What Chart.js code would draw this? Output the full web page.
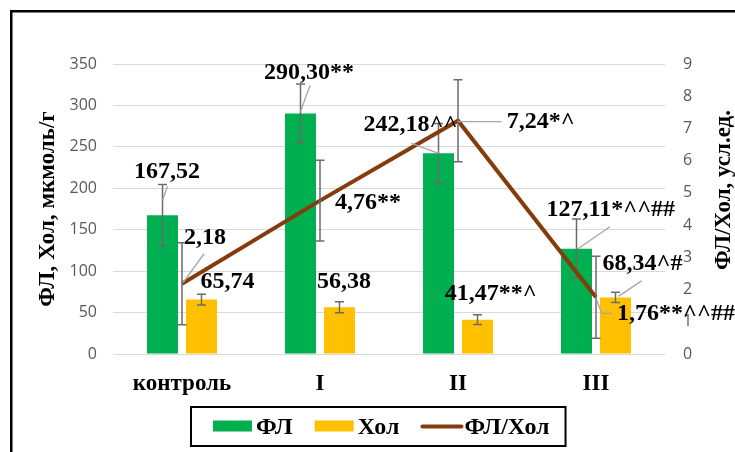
<!DOCTYPE html>
<html lang="ru">
<head>
<meta charset="utf-8">
<title>ФЛ, Хол, ФЛ/Хол</title>
<script src="https://cdn.jsdelivr.net/npm/chart.js@4.4.1/dist/chart.umd.min.js"></script>
<style>
  html, body { margin: 0; padding: 0; background: #fff; }
  #wrap { width: 735px; height: 452px; }
</style>
</head>
<body>
<div id="wrap"><canvas id="myChart" width="735" height="452"></canvas></div>
<script>
// === DATA ===
const categories = ['контроль', 'I', 'II', 'III'];
const flValues = [167.52, 290.30, 242.18, 127.11];
const cholValues = [65.74, 56.38, 41.47, 68.34];
const ratioValues = [2.18, 4.76, 7.24, 1.76];
const flErrors = [37, 35.5, 36, 35.7];
const cholErrors = [6.5, 6.6, 6.0, 6.2];
const ratioErrors = [1.27, 1.25, 1.27, 1.27];
const flMarks = ['', '**', '^^', '*^^##'];
const cholMarks = ['', '', '**^', '^#'];
const ratioMarks = ['', '**', '*^', '**^^##'];
const leftTicks = [0, 50, 100, 150, 200, 250, 300, 350];
const rightTicks = [0, 1, 2, 3, 4, 5, 6, 7, 8, 9];

// position des étiquettes (décalage par rapport au point / haut de barre)
const flLabelPos = [[4.5, -43], [8.5, -41], [-28, -28.3], [34.3, -38.7]];
const cholLabelPos = [[26, -18], [4.5, -25], [13.3, -25.6], [27, -33.4]];
const ratioLabelPos = [[23, -45.5], [48, 2], [82.7, 1], [80, 17]];
const flLeaders = [[[5, -29], [0, -15]], [[9.5, -28], [0, -2]], [[-27, -10], [0, 0]], [[33.5, -22], [1.5, 0]]];
const cholLeaders = [null, null, null, [[26, -16.5], [3, -1]]];
const ratioLeaders = [[[22, -30], [1, -1]], null, [[43.7, 1], [0, 1]], [[0.7, 2.7], [5.7, 16], [15.7, 16]]];

const GREEN = '#00b050';
const YELLOW = '#ffc000';
const BROWN = '#843c0c';
const SERIF = '"Liberation Serif", "Times New Roman", serif';

const fmt = v => v.toFixed(2).replace('.', ',');

// === PLUGINS ===
const errorBars = {
  id: 'errorBars',
  afterDatasetDraw(chart, args) {
    const ds = chart.data.datasets[args.index];
    if (!ds.errors) return;
    const scale = chart.scales[ds.yAxisID];
    const ctx = chart.ctx;
    ctx.save();
    ctx.strokeStyle = '#6b6b6b';
    ctx.lineWidth = 1.5;
    args.meta.data.forEach((el, i) => {
      const x = el.x;
      const y1 = scale.getPixelForValue(ds.data[i] + ds.errors[i]);
      const y2 = scale.getPixelForValue(ds.data[i] - ds.errors[i]);
      ctx.beginPath();
      ctx.moveTo(x, y1); ctx.lineTo(x, y2);
      ctx.moveTo(x - 4.5, y1); ctx.lineTo(x + 4.5, y1);
      ctx.moveTo(x - 4.5, y2); ctx.lineTo(x + 4.5, y2);
      ctx.stroke();
    });
    ctx.restore();
  }
};

const valueLabels = {
  id: 'valueLabels',
  afterDatasetsDraw(chart) {
    const ctx = chart.ctx;
    ctx.save();
    chart.data.datasets.forEach((ds, di) => {
      const meta = chart.getDatasetMeta(di);
      meta.data.forEach((el, i) => {
        const lead = ds.leaders[i];
        if (lead) {
          ctx.strokeStyle = '#a6a6a6';
          ctx.lineWidth = 1.3;
          ctx.beginPath();
          lead.forEach((p, k) => {
            if (k === 0) ctx.moveTo(el.x + p[0], el.y + p[1]);
            else ctx.lineTo(el.x + p[0], el.y + p[1]);
          });
          ctx.stroke();
        }
      });
    });
    chart.data.datasets.forEach((ds, di) => {
      const meta = chart.getDatasetMeta(di);
      ctx.font = 'bold 24px ' + SERIF;
      ctx.fillStyle = '#000';
      ctx.textAlign = 'center';
      ctx.textBaseline = 'middle';
      meta.data.forEach((el, i) => {
        const p = ds.labelPos[i];
        ctx.fillText(fmt(ds.data[i]) + ds.marks[i], el.x + p[0], el.y + p[1]);
      });
    });
    ctx.restore();
  }
};

const decorations = {
  id: 'decorations',
  beforeDraw(chart) {
    const ctx = chart.ctx;
    ctx.save();
    ctx.fillStyle = '#fff';
    ctx.fillRect(0, 0, chart.width, chart.height);
    ctx.restore();
  },
  afterDraw(chart) {
    const ctx = chart.ctx;
    const area = chart.chartArea;
    ctx.save();

    // cadre extérieur
    ctx.strokeStyle = '#000';
    ctx.lineWidth = 2.5;
    ctx.strokeRect(11.25, 11.25, 900, 900);

    // titres des axes
    ctx.fillStyle = '#000';
    ctx.font = 'bold 23px ' + SERIF;
    ctx.textAlign = 'center';
    ctx.textBaseline = 'middle';
    ctx.save();
    ctx.translate(48, (area.top + area.bottom) / 2);
    ctx.rotate(-Math.PI / 2);
    ctx.fillText('ФЛ, Хол, мкмоль/г', 0, 0);
    ctx.restore();
    ctx.save();
    ctx.translate(724, 190);
    ctx.rotate(-Math.PI / 2);
    ctx.fillText('ФЛ/Хол, усл.ед.', 0, 0);
    ctx.restore();

    // légende
    const boxLeft = 190, boxTop = 406, boxBottom = 447;
    const cy = (boxTop + boxBottom) / 2;
    ctx.font = 'bold 24px ' + SERIF;
    ctx.textAlign = 'left';
    let x = boxLeft + 23;
    chart.data.datasets.forEach(ds => {
      if (ds.type === 'line') {
        ctx.strokeStyle = ds.borderColor;
        ctx.lineWidth = 4;
        ctx.lineCap = 'round';
        ctx.beginPath();
        ctx.moveTo(x + 1, cy); ctx.lineTo(x + 40, cy);
        ctx.stroke();
        x += 43;
      } else {
        ctx.fillStyle = ds.backgroundColor;
        ctx.fillRect(x, cy - 6, 39, 11);
        x += 43;
      }
      ctx.fillStyle = '#000';
      ctx.fillText(ds.label, x, cy + 1);
      x += ctx.measureText(ds.label).width + 22;
    });
    ctx.strokeStyle = '#000';
    ctx.lineWidth = 2;
    ctx.strokeRect(boxLeft + 1, boxTop + 1, x - 22 + 17 - boxLeft - 2, boxBottom - boxTop - 2);

    ctx.restore();
  }
};

// === GRAPH ===
new Chart(document.getElementById('myChart'), {
  type: 'bar',
  data: {
    labels: categories,
    datasets: [{
      label: 'ФЛ',
      data: flValues,
      errors: flErrors,
      marks: flMarks,
      labelPos: flLabelPos,
      leaders: flLeaders,
      backgroundColor: GREEN,
      yAxisID: 'y',
      order: 1,
      categoryPercentage: 0.565,
      barPercentage: 0.795
    }, {
      label: 'Хол',
      data: cholValues,
      errors: cholErrors,
      marks: cholMarks,
      labelPos: cholLabelPos,
      leaders: cholLeaders,
      backgroundColor: YELLOW,
      yAxisID: 'y',
      order: 1,
      categoryPercentage: 0.565,
      barPercentage: 0.795
    }, {
      type: 'line',
      label: 'ФЛ/Хол',
      data: ratioValues,
      errors: ratioErrors,
      marks: ratioMarks,
      labelPos: ratioLabelPos,
      leaders: ratioLeaders,
      borderColor: BROWN,
      backgroundColor: BROWN,
      borderWidth: 4,
      pointRadius: 0,
      tension: 0,
      yAxisID: 'y1',
      order: 0
    }]
  },
  options: {
    responsive: false,
    animation: false,
    devicePixelRatio: 1,
    layout: { padding: { top: 64, left: 0, right: 0, bottom: 0 } },
    plugins: {
      legend: { display: false },
      title: { display: false },
      tooltip: { enabled: false }
    },
    scales: {
      x: {
        grid: { display: false, drawTicks: false },
        border: { display: false },
        ticks: {
          color: '#000',
          font: { family: SERIF, size: 23, weight: 'bold' },
          padding: 16
        },
        afterFit: s => { s.height = 98; }
      },
      y: {
        position: 'left',
        min: 0,
        max: 350,
        afterBuildTicks: s => { s.ticks = leftTicks.map(v => ({ value: v })); },
        grid: { color: '#d9d9d9', lineWidth: 1, drawTicks: false },
        border: { display: false },
        ticks: {
          color: '#595959',
          font: { family: '"Open Sans", sans-serif', size: 16 },
          padding: 16
        },
        afterFit: s => { s.width = 113; }
      },
      y1: {
        position: 'right',
        min: 0,
        max: 9,
        afterBuildTicks: s => { s.ticks = rightTicks.map(v => ({ value: v })); },
        grid: { display: false, drawTicks: false },
        border: { display: false },
        ticks: {
          color: '#595959',
          font: { family: '"Open Sans", sans-serif', size: 16 },
          padding: 18
        },
        afterFit: s => { s.width = 70; }
      }
    }
  },
  plugins: [decorations, errorBars, valueLabels]
});
</script>
</body>
</html>
